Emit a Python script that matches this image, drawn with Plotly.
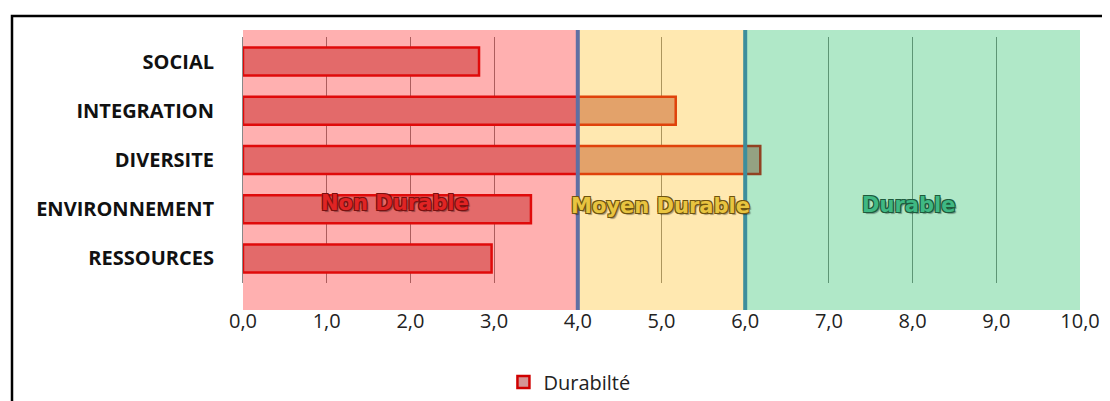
import plotly.graph_objects as go

categories = ["SOCIAL", "INTEGRATION", "DIVERSITE", "ENVIRONNEMENT", "RESSOURCES"]
durabilite = [2.82, 5.17, 6.18, 3.44, 2.97]
series_name = "Durabilté"

zone_bounds = [0, 4, 6, 10]
zone_names = ["Non Durable", "Moyen Durable", "Durable"]
zone_fill = ["rgba(255,29,29,0.35)", "rgba(255,189,29,0.35)", "rgba(29,189,98,0.35)"]
zone_text_col = ["#E02424", "#E8C440", "#3FB883"]
zone_text_shadow = ["#7a1010", "#6e5410", "#1d5a3c"]
zone_label_x = [1.82, 4.99, 7.95]
zone_label_y = [2.88, 2.94, 2.91]
sep_x = [4, 6]
sep_col = ["#5f6fa3", "#3d8e9c"]

# page body has an 8px margin: positions below are in window pixels minus 8
OFF = 8
W, H = 1110 - OFF, 401 - OFF
L = 243 - OFF
T = 37 - OFF
R = W - (1080 - OFF)
B = H - (283 - OFF)
pw = W - L - R
ph = H - T - B

fig = go.Figure()
fig.add_trace(go.Bar(
    y=categories, x=durabilite, orientation="h", name=series_name,
    marker=dict(color="rgb(212,148,148)", line=dict(color="rgb(208,0,0)", width=2.5)),
    showlegend=True,
))

shapes = []
y0b = -(310 - 283) / ph
y1b = 1 + (37 - 30) / ph
for i in range(3):
    shapes.append(dict(type="rect", xref="x", yref="paper",
                       x0=zone_bounds[i], x1=zone_bounds[i + 1], y0=y0b, y1=y1b,
                       fillcolor=zone_fill[i], line=dict(width=0), layer="above"))
for sx, sc in zip(sep_x, sep_col):
    shapes.append(dict(type="line", xref="x", yref="paper", x0=sx, x1=sx, y0=y0b, y1=y1b,
                       line=dict(color=sc, width=4), layer="above"))
# outer frame
shapes.append(dict(type="rect", xref="paper", yref="paper",
                   x0=(12 - 243) / pw, x1=1.2, y0=-0.7, y1=1 + (37 - 16) / ph,
                   line=dict(color="black", width=2.5), fillcolor="rgba(0,0,0,0)", layer="above"))

annotations = []
for name, col, sh, ax, ay in zip(zone_names, zone_text_col, zone_text_shadow, zone_label_x, zone_label_y):
    s = sh
    shadow = f"1px 1px 0 {s}, -1px -1px 0 {s}, 1px -1px 0 {s}, -1px 1px 0 {s}, 2px 2px 1px rgba(0,0,0,0.35)"
    annotations.append(dict(x=ax, y=ay, xref="x", yref="y", text=f"<b>{name}</b>", showarrow=False,
                            font=dict(family="DejaVu Sans", size=21, color=col, shadow=shadow)))

fig.update_layout(
    width=W, height=H,
    margin=dict(l=L, r=R, t=T, b=B, autoexpand=False),
    plot_bgcolor="white", paper_bgcolor="white",
    bargap=0.43,
    separators=", ",
    shapes=shapes, annotations=annotations,
    showlegend=True,
    legend=dict(orientation="h", x=0.39, xanchor="center", y=-(382 - 283) / ph, yanchor="middle",
                font=dict(family="Open Sans", size=20, color="#222")),
    xaxis=dict(range=[0, 10], dtick=1, tickformat=".1f", showgrid=True, gridcolor="#808080", gridwidth=1,
               zeroline=False, showline=False, ticks="", ticklabelstandoff=24, automargin=False,
               tickfont=dict(family="Open Sans", size=20, color="#222")),
    yaxis=dict(autorange="reversed", showgrid=False, showline=True, linecolor="#888", linewidth=1,
               ticks="", ticklabelstandoff=24, automargin=False,
               tickfont=dict(family="Open Sans", size=20, color="#111", weight="bold")),
)

fig.write_html("out.html")
